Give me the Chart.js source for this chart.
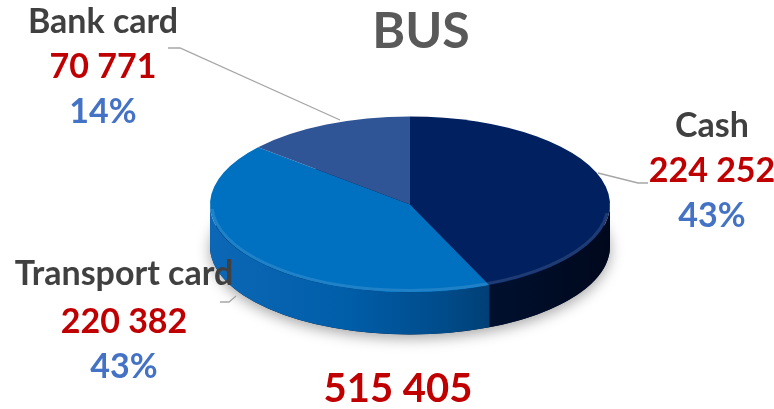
<!DOCTYPE html>
<html>
<head>
<meta charset="utf-8">
<script src="https://cdn.jsdelivr.net/npm/chart.js@4.4.1/dist/chart.umd.min.js"></script>
<style>
  html, body { margin: 0; padding: 0; background: #fff; }
  #wrap { position: relative; width: 774px; height: 409px; }
</style>
</head>
<body>
<div id="wrap"><canvas id="bus-chart"></canvas></div>
<script>
// ── Data ──────────────────────────────────────────────────
const chartTitle = 'BUS';
const labels     = ['Cash', 'Transport card', 'Bank card'];
const values     = [224252, 220382, 70771];
const percents   = [43, 43, 14];

// ── Look ──────────────────────────────────────────────────
const topColors  = ['#002060', '#0070c0', '#2f5597'];
const sideStops  = [
  [[0, '#001232'], [0.75, '#000f2c'], [1, '#00081c']],
  [[0, '#0c68b6'], [0.35, '#005da8'], [0.6, '#004a88'], [0.75, '#003a6c'], [1, '#002a50']],
  [[0, '#1f3f78'], [1, '#1a3566']]
];
const TILT  = 0.44;   // vertical squash of the pie disc
const DEPTH = 42;     // thickness of the disc, px

// label anchors: x centre and baselines of the three lines
const labelPos = [
  { x: 712, y: [137, 182, 227] },
  { x: 124, y: [285, 333, 378] },
  { x: 103, y: [33, 78, 123] }
];
const leaderLines = [
  [[598, 173], [638, 183], [648, 183]],
  [[236, 296], [229, 302], [220, 302]],
  [[340, 120], [180, 48], [168, 48]]
];

const fmtNum = n => String(n).replace(/\B(?=(\d{3})+(?!\d))/g, ' ');
const total  = values.reduce((s, v) => s + v, 0);

// parts of an arc that face the viewer (canvas angles 0..PI, y down)
function frontRanges(s, e) {
  const out = [];
  [-2 * Math.PI, 0, 2 * Math.PI].forEach(off => {
    const a0 = Math.max(s, off), a1 = Math.min(e, off + Math.PI);
    if (a1 > a0) out.push([a0, a1]);
  });
  return out;
}

// ── 3D disc plugin ────────────────────────────────────────
const pie3d = {
  id: 'pie3d',
  beforeDatasetsDraw(chart) {
    const ctx  = chart.ctx;
    const arcs = chart.getDatasetMeta(0).data;
    const { x: cx, y: cy, outerRadius: r } = arcs[0];
    const ry = r * TILT;

    // soft shadow under the disc
    ctx.save();
    ctx.shadowColor   = 'rgba(0,0,0,0.35)';
    ctx.shadowBlur    = 14;
    ctx.shadowOffsetY = 4;
    ctx.fillStyle = '#00112e';
    ctx.beginPath();
    ctx.ellipse(cx, cy + DEPTH, r, ry, 0, 0, 2 * Math.PI);
    ctx.fill();
    ctx.restore();

    // side walls
    arcs.forEach((arc, i) => {
      frontRanges(arc.startAngle, arc.endAngle).forEach(([a0, a1]) => {
        const g = ctx.createLinearGradient(cx - r, 0, cx + r, 0);
        sideStops[i].forEach(([p, c]) => g.addColorStop(p, c));
        ctx.fillStyle = g;
        ctx.beginPath();
        ctx.ellipse(cx, cy, r, ry, 0, a0, a1);
        ctx.ellipse(cx, cy + DEPTH, r, ry, 0, a1, a0, true);
        ctx.closePath();
        ctx.fill();
      });
    });

    // squash the top face
    ctx.save();
    ctx.translate(0, cy);
    ctx.scale(1, TILT);
    ctx.translate(0, -cy);
  },
  afterDatasetsDraw(chart) {
    const ctx = chart.ctx;
    ctx.restore();
    const arcs = chart.getDatasetMeta(0).data;
    const { x: cx, y: cy, outerRadius: r } = arcs[0];
    // light bevel along the front rim of the top face
    ctx.save();
    ctx.strokeStyle = 'rgba(255,255,255,0.12)';
    ctx.lineWidth = 3;
    ctx.beginPath();
    ctx.ellipse(cx, cy, r - 2, r * TILT - 2, 0, 0.1, Math.PI - 0.05);
    ctx.stroke();
    ctx.restore();
  },
  afterDraw(chart) {
    const ctx = chart.ctx;
    ctx.save();
    ctx.textAlign = 'center';
    ctx.textBaseline = 'alphabetic';

    // leader lines
    ctx.strokeStyle = '#a6a6a6';
    ctx.lineWidth = 1.3;
    leaderLines.forEach(pts => {
      ctx.beginPath();
      pts.forEach(([x, y], j) => j ? ctx.lineTo(x, y) : ctx.moveTo(x, y));
      ctx.stroke();
    });

    // title
    ctx.font = 'bold 50px Lato';
    ctx.fillStyle = '#595959';
    ctx.fillText(chartTitle, 421, 48);

    // slice labels
    labels.forEach((lab, i) => {
      const p = labelPos[i];
      ctx.font = 'bold 34px Lato';
      ctx.fillStyle = '#404040';
      ctx.fillText(lab, p.x, p.y[0]);
      ctx.fillStyle = '#c00000';
      ctx.fillText(fmtNum(values[i]), p.x, p.y[1]);
      ctx.fillStyle = '#4472c4';
      ctx.fillText(percents[i] + '%', p.x, p.y[2]);
    });

    // total
    ctx.font = 'bold 40px Lato';
    ctx.fillStyle = '#c00000';
    ctx.fillText(fmtNum(total), 398, 402);
    ctx.restore();
  }
};

new Chart(document.getElementById('bus-chart'), {
  type: 'pie',
  data: {
    labels,
    datasets: [{
      data: values,
      backgroundColor: topColors,
      borderWidth: 0,
      hoverBorderWidth: 0,
      offset: 0,
      hoverOffset: 0
    }]
  },
  options: {
    responsive: true,
    maintainAspectRatio: false,
    animation: false,
    events: [],
    radius: 200,
    layout: { padding: { left: 210, right: 164, top: 0, bottom: 0 } },
    plugins: {
      legend: { display: false },
      tooltip: { enabled: false },
      title: { display: false }
    }
  },
  plugins: [pie3d]
});
</script>
</body>
</html>
